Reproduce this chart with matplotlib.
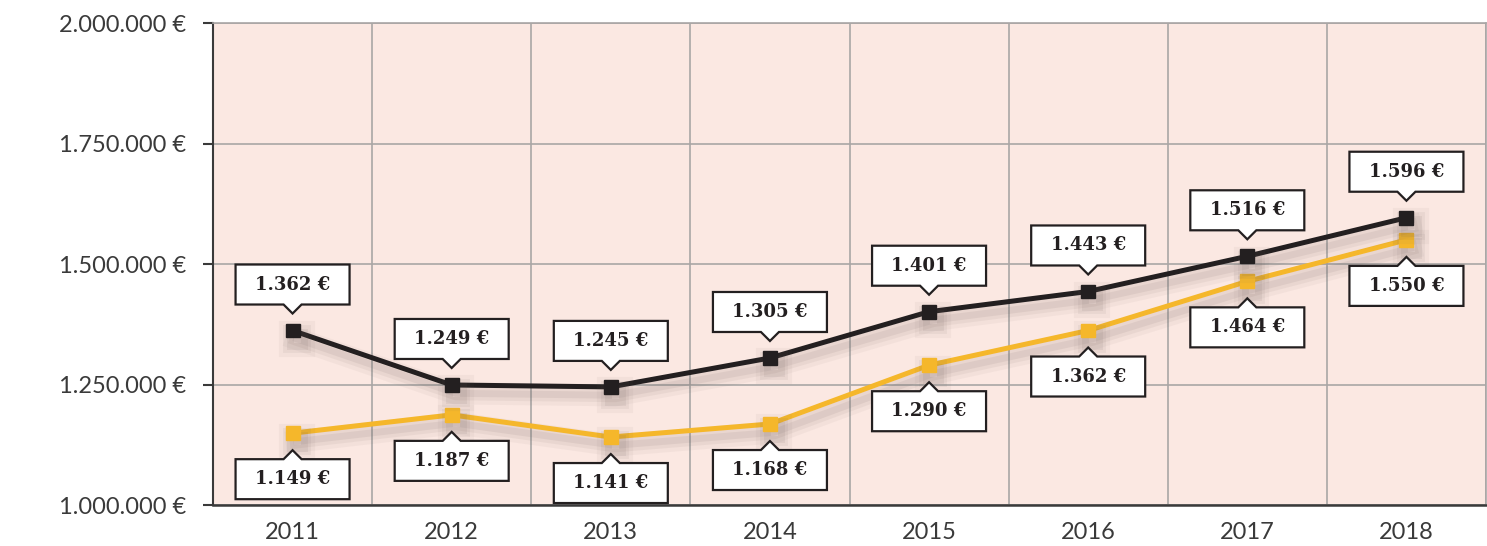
import matplotlib
matplotlib.use("Agg")
import matplotlib.pyplot as plt
import matplotlib.patheffects as pe
import matplotlib.transforms as mtransforms
from matplotlib.patches import Polygon
from matplotlib.ticker import FixedLocator

# data
years = ["2011", "2012", "2013", "2014", "2015", "2016", "2017", "2018"]
black_vals = [1362000, 1249000, 1245000, 1305000, 1401000, 1443000, 1516000, 1596000]
yellow_vals = [1149000, 1187000, 1141000, 1168000, 1290000, 1362000, 1464000, 1550000]
black_labels = ["1.362 €", "1.249 €", "1.245 €", "1.305 €", "1.401 €", "1.443 €", "1.516 €", "1.596 €"]
yellow_labels = ["1.149 €", "1.187 €", "1.141 €", "1.168 €", "1.290 €", "1.362 €", "1.464 €", "1.550 €"]
y_ticks = [1000000, 1250000, 1500000, 1750000, 2000000]
y_ticklabels = ["1.000.000 €", "1.250.000 €", "1.500.000 €", "1.750.000 €", "2.000.000 €"]

BLACK = "#231f20"
YELLOW = "#f5b72b"
BG = "#fbe8e2"
GRID = "#a9a6a5"
TXT = "#3a3a3a"

fig = plt.figure(figsize=(14.87, 5.46), dpi=100)
ax = fig.add_axes([213 / 1487, 1 - 505 / 546, (1486 - 213) / 1487, (505 - 23) / 546])
ax.set_facecolor(BG)

x = list(range(len(years)))
ax.set_xlim(-0.5, len(years) - 0.5)
ax.set_ylim(1000000, 2000000)

# grid
ax.set_yticks(y_ticks)
ax.set_yticklabels(y_ticklabels)
ax.set_xticks(x)
ax.set_xticklabels(years)
ax.xaxis.set_minor_locator(FixedLocator([i - 0.5 for i in range(len(years) + 1)]))
ax.grid(axis="y", which="major", color=GRID, lw=1.2)
ax.grid(axis="x", which="minor", color=GRID, lw=1.2)
ax.set_axisbelow(True)

for s in ["top", "right"]:
    ax.spines[s].set_color(GRID)
    ax.spines[s].set_linewidth(1.2)
ax.spines["left"].set_color(TXT)
ax.spines["left"].set_linewidth(1.5)
ax.spines["bottom"].set_color(TXT)
ax.spines["bottom"].set_linewidth(1.8)

ax.tick_params(axis="y", length=7.5, width=1.5, color=TXT, pad=12,
               labelsize=17, labelcolor=TXT)
ax.tick_params(axis="x", which="both", length=0, pad=12, labelsize=17, labelcolor=TXT)
for lab in ax.get_yticklabels() + ax.get_xticklabels():
    lab.set_family("Lato")
    lab.set_fontweight("normal")

shadow = [pe.SimpleLineShadow(offset=(3, -6), shadow_color="#6b5a57", alpha=0.05, linewidth=16),
          pe.SimpleLineShadow(offset=(3, -6), shadow_color="#6b5a57", alpha=0.07, linewidth=10),
          pe.SimpleLineShadow(offset=(3, -6), shadow_color="#6b5a57", alpha=0.09, linewidth=5),
          pe.Normal()]

ax.plot(x, yellow_vals, color=YELLOW, lw=3.6, marker="s", ms=10, zorder=3,
        path_effects=shadow)
ax.plot(x, black_vals, color=BLACK, lw=3.6, marker="s", ms=10, zorder=4,
        path_effects=shadow)

# callout boxes, sizes in pixels
bw, bh, ph, pw, gap = 114, 40, 9, 9, 17


def callout(xi, yi, text, up):
    s = 1 if up else -1
    b0 = s * (gap + ph)
    b1 = s * (gap + ph + bh)
    verts = [(-bw / 2, b0), (-pw, b0), (0, s * gap), (pw, b0), (bw / 2, b0),
             (bw / 2, b1), (-bw / 2, b1)]
    tr = mtransforms.Affine2D() + mtransforms.ScaledTranslation(xi, yi, ax.transData)
    poly = Polygon(verts, closed=True, facecolor="white", edgecolor=BLACK, lw=1.6,
                   transform=tr, clip_on=False, zorder=6)
    ax.add_patch(poly)
    ax.text(0, (b0 + b1) / 2, text, transform=tr, ha="center", va="center",
            fontsize=13, fontweight="bold", family="DejaVu Serif", color=BLACK,
            zorder=7)


for i in x:
    callout(i, black_vals[i], black_labels[i], True)
    callout(i, yellow_vals[i], yellow_labels[i], False)

fig.savefig("out.png", dpi=100)
